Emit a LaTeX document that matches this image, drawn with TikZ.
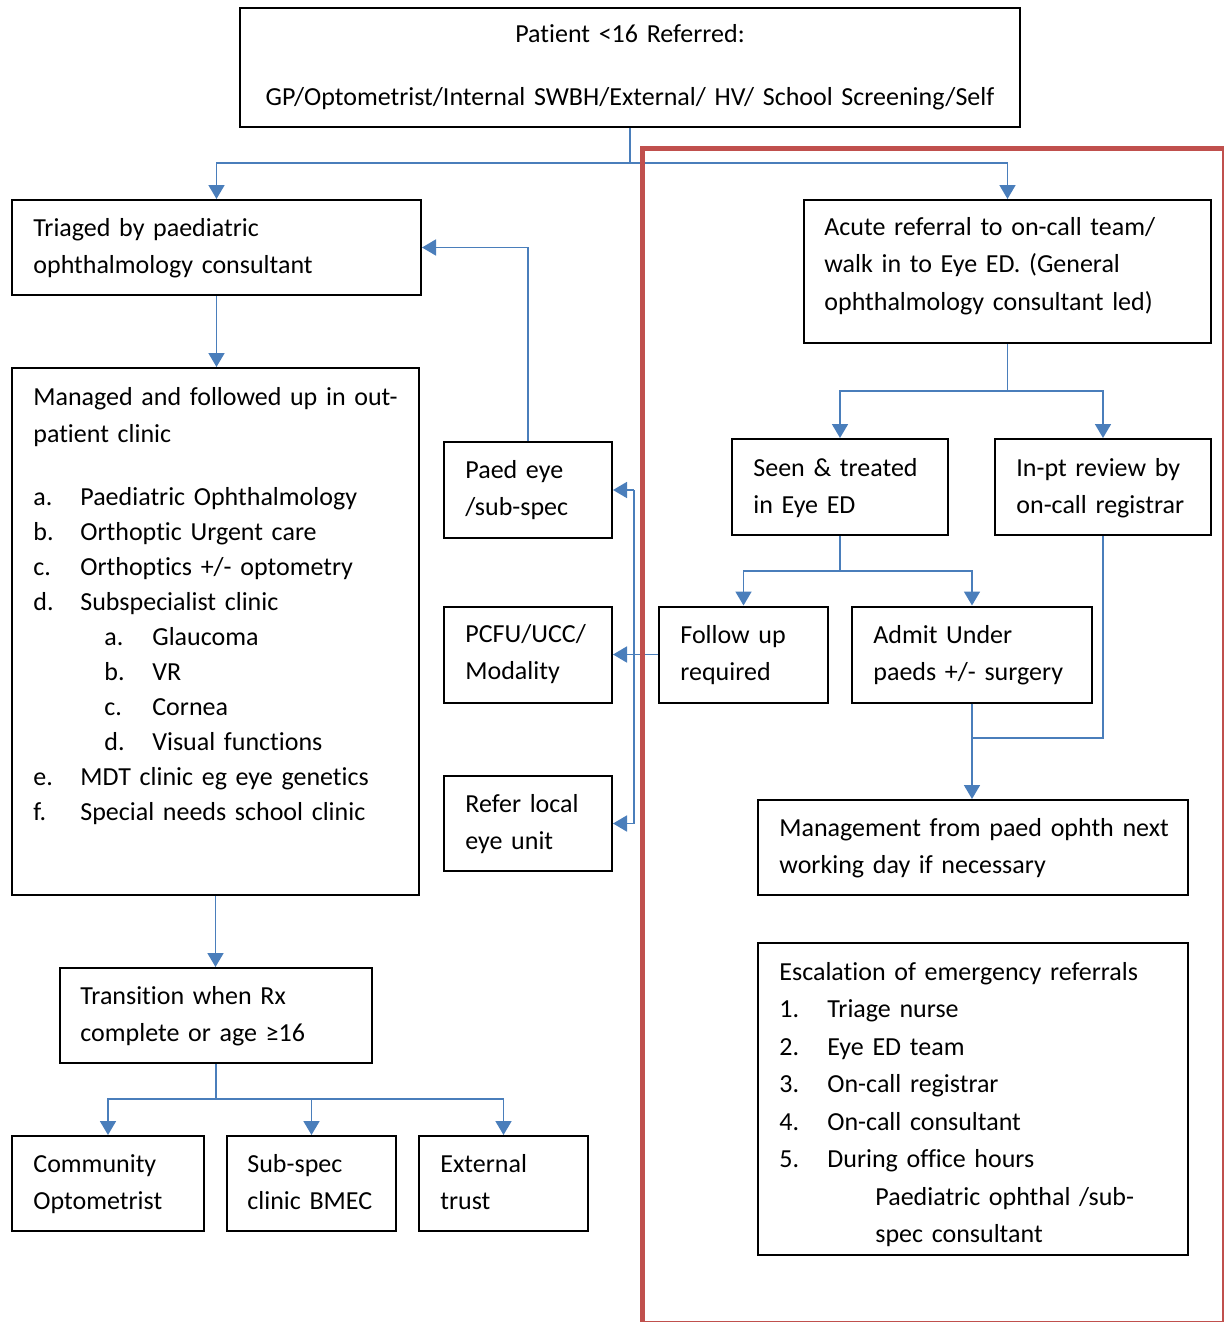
\documentclass[tikz,border=0pt]{standalone}
\usepackage{fontspec}
\setmainfont{Carlito}[Ligatures=NoCommon]
\usetikzlibrary{arrows.meta}
\definecolor{flowblue}{HTML}{4A7EBB}
\definecolor{flowred}{HTML}{C0504D}
\begin{document}
\begin{tikzpicture}[x=0.5pt,y=-0.5pt,
  box/.style={draw=black, line width=1pt, rectangle, inner sep=0pt},
  txt/.style={anchor=base west, inner sep=0pt, align=left, text width=260pt,
              font=\fontsize{13pt}{18.75pt}\selectfont},
  arr/.style={draw=flowblue, line width=0.9pt, -{Triangle[length=7pt,width=8pt]}},
  ln/.style={draw=flowblue, line width=0.9pt}]
\useasboundingbox (0,0) rectangle (1223,1322);

% ---------- boxes ----------
\node[box, minimum width=390pt, minimum height=59.5pt] (top) at (630,67.5) {};
\node[box, minimum width=204.5pt, minimum height=47.5pt] (tri) at (216.5,247.5) {};
\node[box, minimum width=203.5pt, minimum height=263.5pt] (man) at (215.5,631.5) {};
\node[box, minimum width=84pt, minimum height=48pt] (paed) at (528,490) {};
\node[box, minimum width=84pt, minimum height=48pt] (pcfu) at (528,654.5) {};
\node[box, minimum width=84pt, minimum height=47.5pt] (refer) at (528,823.5) {};
\node[box, minimum width=156pt, minimum height=47.5pt] (trans) at (216,1015.5) {};
\node[box, minimum width=96pt, minimum height=47.5pt] (comm) at (108,1183.5) {};
\node[box, minimum width=84.5pt, minimum height=47.5pt] (sub) at (311.5,1183.5) {};
\node[box, minimum width=84.5pt, minimum height=47.5pt] (ext) at (503.5,1183.5) {};
\node[box, minimum width=203.5pt, minimum height=71.5pt] (acute) at (1007.5,271.5) {};
\node[box, minimum width=108pt, minimum height=48pt] (seen) at (840,487) {};
\node[box, minimum width=108pt, minimum height=48pt] (inpt) at (1103,487) {};
\node[box, minimum width=84.5pt, minimum height=48pt] (follow) at (743.5,654.5) {};
\node[box, minimum width=120pt, minimum height=48pt] (admit) at (972,654.5) {};
\node[box, minimum width=215pt, minimum height=47.5pt] (mgmt) at (973,847.5) {};
\node[box, minimum width=215pt, minimum height=156pt] (esc) at (973,1099) {};

% ---------- texts ----------
\node[txt, anchor=base, align=center, text width=385pt] (top-t) at (630,43)
  {Patient <16 Referred:\\[12.75pt]GP/Optometrist/Internal SWBH/External/ HV/ School Screening/Self};
\node[txt] (tri-t) at (33,236) {Triaged by paediatric\\ophthalmology consultant};
\node[txt] (man-t) at (33,405) {Managed and followed up in out-\\patient clinic\\[12.75pt]
  \makebox[23.5pt][l]{a.}Paediatric Ophthalmology\\[-1.25pt]
  \makebox[23.5pt][l]{b.}Orthoptic Urgent care\\[-1.25pt]
  \makebox[23.5pt][l]{c.}Orthoptics +/- optometry\\[-1.25pt]
  \makebox[23.5pt][l]{d.}Subspecialist clinic\\[-1.25pt]
  \hspace*{35.5pt}\makebox[24pt][l]{a.}Glaucoma\\[-1.25pt]
  \hspace*{35.5pt}\makebox[24pt][l]{b.}VR\\[-1.25pt]
  \hspace*{35.5pt}\makebox[24pt][l]{c.}Cornea\\[-1.25pt]
  \hspace*{35.5pt}\makebox[24pt][l]{d.}Visual functions\\[-1.25pt]
  \makebox[23.5pt][l]{e.}MDT clinic eg eye genetics\\[-1.25pt]
  \makebox[23.5pt][l]{f.}Special needs school clinic};
\node[txt] (paed-t) at (465,478) {Paed eye\\/sub-spec};
\node[txt] (pcfu-t) at (465,642) {PCFU/UCC/\\Modality};
\node[txt] (refer-t) at (465,812) {Refer local\\eye unit};
\node[txt] (trans-t) at (80,1004) {Transition when Rx\\complete or age ≥16};
\node[txt] (comm-t) at (33,1172) {Community\\Optometrist};
\node[txt] (sub-t) at (247,1172) {Sub-spec\\clinic BMEC};
\node[txt] (ext-t) at (440,1172) {External\\trust};
\node[txt] (acute-t) at (824,235) {Acute referral to on-call team/\\walk in to Eye ED. (General\\ophthalmology consultant led)};
\node[txt] (seen-t) at (753,476) {Seen \& treated\\in Eye ED};
\node[txt] (inpt-t) at (1016,476) {In-pt review by\\on-call registrar};
\node[txt] (follow-t) at (680,643) {Follow up\\required};
\node[txt] (admit-t) at (873,643) {Admit Under\\paeds +/- surgery};
\node[txt] (mgmt-t) at (779,836) {Management from paed ophth next\\working day if necessary};
\node[txt] (esc-t) at (779,980) {Escalation of emergency referrals\\
  \makebox[24pt][l]{1.}Triage nurse\\
  \makebox[24pt][l]{2.}Eye ED team\\
  \makebox[24pt][l]{3.}On-call registrar\\
  \makebox[24pt][l]{4.}On-call consultant\\
  \makebox[24pt][l]{5.}During office hours\\
  \hspace*{48pt}Paediatric ophthal /sub-\\
  \hspace*{48pt}spec consultant};

% ---------- connectors ----------
\coordinate (j1) at (630,163);
\coordinate (j2) at (1007.5,391);
\coordinate (j3) at (840,571);
\coordinate (j4) at (634,654.5);
\coordinate (j5) at (972,738);
\coordinate (j6) at (216,1099);

\draw[ln] (top.south) -- (j1);
\draw[arr] (j1) -| (tri.north);
\draw[arr] (j1) -| (acute.north);
\draw[arr] (tri.south) -- (tri.south |- man.north);
\draw[arr] (paed.north) |- (tri.east);

\draw[ln] (follow.west) -- (j4);
\draw[ln] (j4 |- paed.east) -- (j4 |- refer.east);
\draw[arr] (j4 |- paed.east) -- (paed.east);
\draw[arr] (j4) -- (pcfu.east);
\draw[arr] (j4 |- refer.east) -- (refer.east);

\draw[ln] (acute.south) -- (j2);
\draw[arr] (j2) -| (seen.north);
\draw[arr] (j2) -| (inpt.north);
\draw[ln] (seen.south) -- (j3);
\draw[arr] (j3) -| (follow.north);
\draw[arr] (j3) -| (admit.north);
\draw[arr] (admit.south) -- (admit.south |- mgmt.north);
\draw[ln] (inpt.south) |- (j5);

\draw[arr] (man.south) -- (man.south |- trans.north);
\draw[ln] (trans.south) -- (j6);
\draw[arr] (j6) -| (comm.north);
\draw[arr] (j6) -| (sub.north);
\draw[arr] (j6) -| (ext.north);

% ---------- red frame ----------
\draw[flowred, line width=2.5pt] (642.5,148.5) rectangle (1224.5,1323.5);
\end{tikzpicture}
\end{document}
